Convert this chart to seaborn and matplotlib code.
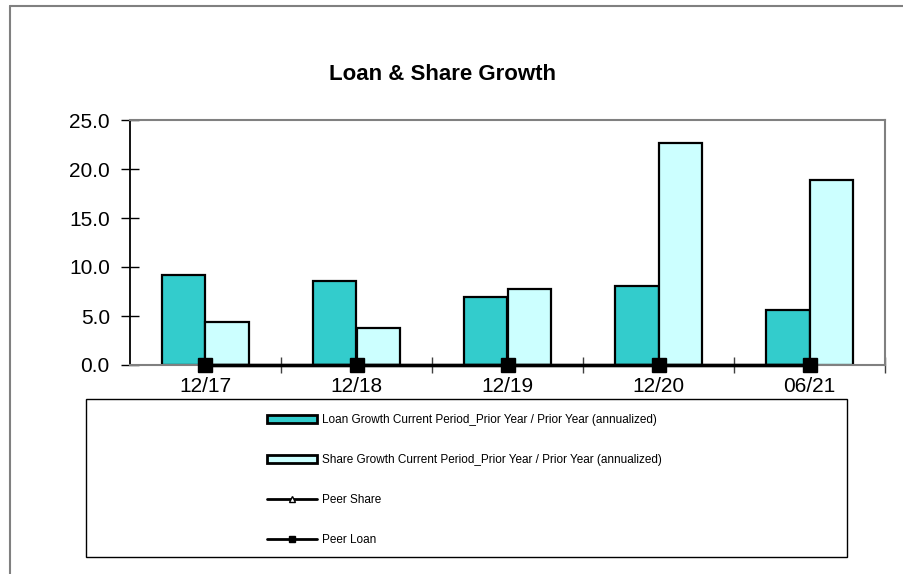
import numpy as np
import pandas as pd
import matplotlib
matplotlib.use("Agg")
import matplotlib.pyplot as plt
import seaborn as sns
from matplotlib.patches import Patch, Rectangle
from matplotlib.lines import Line2D
from matplotlib.ticker import FixedLocator

# ---- data ----
categories = ["12/17", "12/18", "12/19", "12/20", "06/21"]
loan_growth = [9.2, 8.6, 6.9, 8.1, 5.6]
share_growth = [4.4, 3.8, 7.8, 22.7, 18.9]
peer_share = [0.0, 0.0, 0.0, 0.0, 0.0]
peer_loan = [0.0, 0.0, 0.0, 0.0, 0.0]
yticks = [0.0, 5.0, 10.0, 15.0, 20.0, 25.0]

loan_label = "Loan Growth Current Period_Prior Year / Prior Year (annualized)"
share_label = "Share Growth Current Period_Prior Year / Prior Year (annualized)"

df = pd.DataFrame({
    "period": categories * 2,
    "value": loan_growth + share_growth,
    "series": [loan_label] * len(categories) + [share_label] * len(categories),
})

sns.set_style("white")
plt.rcParams["font.family"] = ["Liberation Sans", "DejaVu Sans"]
plt.rcParams["text.color"] = "black"
plt.rcParams["xtick.color"] = "black"
plt.rcParams["ytick.color"] = "black"

fig = plt.figure(figsize=(9.04, 5.74), dpi=100)
ax = fig.add_axes([130 / 904, 1 - 365 / 574, 755 / 904, 245 / 574])

loan_color = "#33CCCC"
share_color = "#CCFFFF"

sns.barplot(data=df, x="period", y="value", hue="series", order=categories,
            hue_order=[loan_label, share_label],
            palette=[loan_color, share_color], width=0.57, gap=0,
            edgecolor="black", linewidth=1.6, saturation=1, legend=False, ax=ax)

xpos = np.arange(len(categories))
ax.plot(xpos, peer_share, color="black", lw=2.4, marker="^", markersize=9,
        markerfacecolor="white", markeredgecolor="black", zorder=4, clip_on=False)
ax.plot(xpos, peer_loan, color="black", lw=2.4, marker="s", markersize=10,
        markerfacecolor="black", markeredgecolor="black", zorder=5, clip_on=False)

ax.set_xlim(-0.5, len(categories) - 0.5)
ax.set_ylim(0, 25)
ax.set_yticks(yticks)
ax.set_yticklabels([f"{v:.1f}" for v in yticks])
ax.set_xlabel("")
ax.set_ylabel("")

ax.tick_params(axis="y", direction="inout", length=13, width=1.0, colors="black",
               labelsize=15, pad=8, left=True)
ax.tick_params(axis="x", which="major", length=0, labelsize=15, pad=9, labelcolor="black")
ax.xaxis.set_minor_locator(FixedLocator(np.arange(0.5, len(categories), 1.0)))
ax.tick_params(axis="x", which="minor", direction="inout", length=12, width=1.0,
               color="#404040", bottom=True)

for s in ["top", "right", "bottom"]:
    ax.spines[s].set_visible(True)
    ax.spines[s].set_color("#808080")
    ax.spines[s].set_linewidth(1.5)
ax.spines["left"].set_color("black")
ax.spines["left"].set_linewidth(1.3)

fig.text(443 / 904, 1 - 75 / 574, "Loan & Share Growth", ha="center", va="center",
         fontsize=16, fontweight="bold", color="black")

# outer chart border (top and left)
fig.add_artist(Line2D([10 / 904, 1.0], [1 - 6 / 574, 1 - 6 / 574], transform=fig.transFigure,
                      color="#808080", lw=1.5))
fig.add_artist(Line2D([10 / 904, 10 / 904], [0, 1 - 6 / 574], transform=fig.transFigure,
                      color="#808080", lw=1.5))

# legend box
fig.add_artist(Rectangle((86 / 904, 1 - 557 / 574), 761 / 904, 158 / 574,
                         transform=fig.transFigure, fill=False, edgecolor="black", lw=1.0))

handles = [
    Patch(facecolor=loan_color, edgecolor="black", linewidth=2.0, label=loan_label),
    Patch(facecolor=share_color, edgecolor="black", linewidth=2.0, label=share_label),
    Line2D([], [], color="black", lw=2.0, marker="^", markersize=4,
           markerfacecolor="white", markeredgecolor="black", label="Peer Share"),
    Line2D([], [], color="black", lw=2.0, marker="s", markersize=5,
           markerfacecolor="black", label="Peer Loan"),
]
fig.legend(handles=handles, loc="upper left",
           bbox_to_anchor=(261 / 904, 1 - 408 / 574), frameon=False,
           fontsize=8.5, handlelength=4.25, handleheight=0.7, handletextpad=0.45,
           labelspacing=2.38, borderpad=0)

fig.savefig("out.png", dpi=100)
